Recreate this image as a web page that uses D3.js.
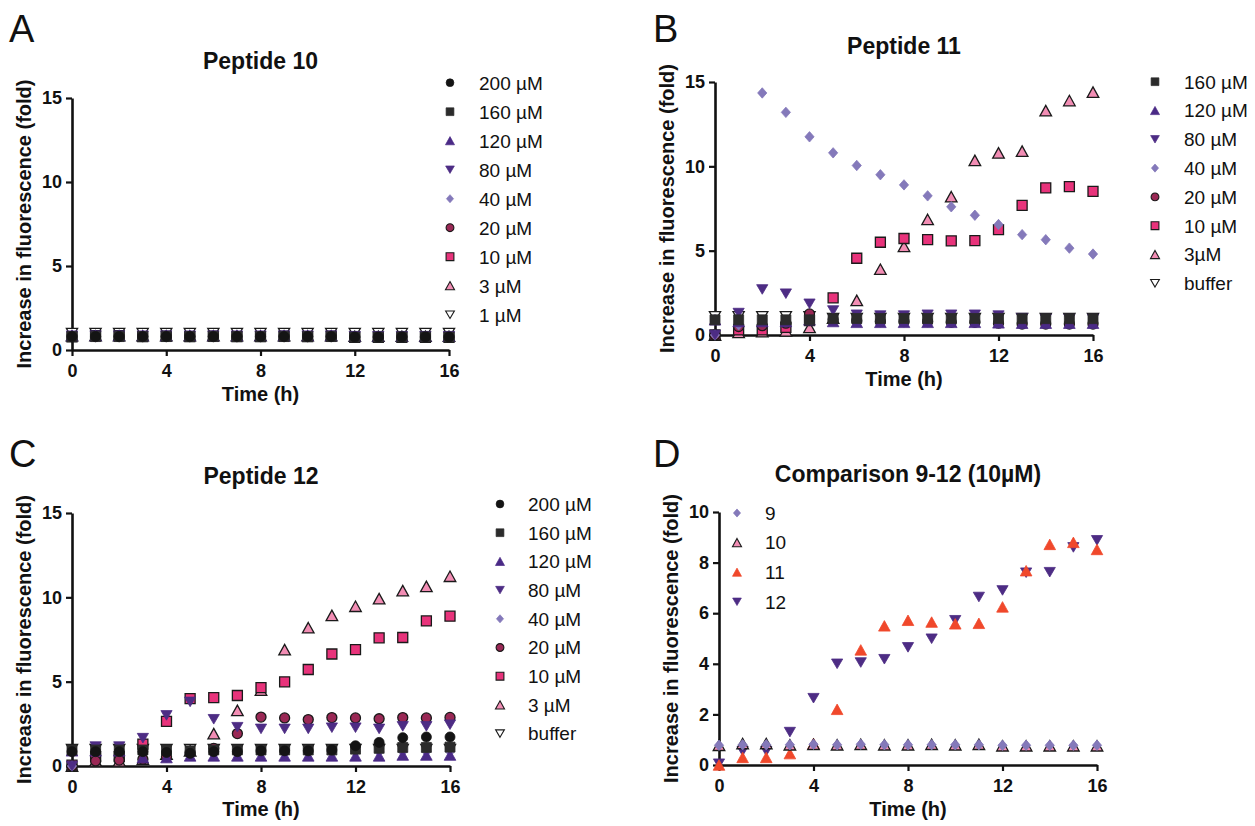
<!DOCTYPE html>
<html>
<head>
<meta charset="utf-8">
<script src="https://cdn.jsdelivr.net/npm/d3@7/dist/d3.min.js"></script>
<style>
  body { margin: 0; background: #fff; }
  text { font-family: "Liberation Sans", Arial, Helvetica, sans-serif; fill: #111; }
</style>
</head>
<body>
<div id="chart"></div>
<script>
// time points (h)
var hours = [0, 1, 2, 3, 4, 5, 6, 7, 8, 9, 10, 11, 12, 13, 14, 15, 16];
var xTicks = [0, 4, 8, 12, 16];
var yTicks15 = [0, 5, 10, 15];
var yTicks10 = [0, 2, 4, 6, 8, 10];

// peptide 10 (panel A)
var p10_200 = [0.80, 0.80, 0.80, 0.80, 0.80, 0.80, 0.80, 0.80, 0.80, 0.80, 0.80, 0.80, 0.77, 0.77, 0.78, 0.78, 0.77];
var p10_160 = [0.80, 0.80, 0.80, 0.80, 0.80, 0.80, 0.80, 0.80, 0.80, 0.80, 0.80, 0.80, 0.77, 0.77, 0.78, 0.78, 0.77];
var p10_120 = [0.85, 0.85, 0.85, 0.85, 0.85, 0.85, 0.85, 0.85, 0.85, 0.85, 0.85, 0.85, 0.82, 0.82, 0.82, 0.82, 0.82];
var p10_80 = [0.85, 0.85, 0.85, 0.85, 0.85, 0.85, 0.85, 0.85, 0.85, 0.85, 0.85, 0.85, 0.82, 0.82, 0.82, 0.82, 0.82];
var p10_40 = [0.80, 0.80, 0.80, 0.80, 0.80, 0.80, 0.80, 0.80, 0.80, 0.80, 0.80, 0.80, 0.78, 0.78, 0.78, 0.78, 0.78];
var p10_20 = [0.80, 0.80, 0.80, 0.80, 0.80, 0.80, 0.80, 0.80, 0.80, 0.80, 0.80, 0.80, 0.78, 0.78, 0.78, 0.78, 0.78];
var p10_10 = [0.78, 0.85, 0.85, 0.80, 0.82, 0.80, 0.82, 0.80, 0.80, 0.82, 0.80, 0.82, 0.76, 0.76, 0.76, 0.76, 0.76];
var p10_3 = [0.85, 0.85, 0.85, 0.85, 0.85, 0.85, 0.85, 0.85, 0.85, 0.85, 0.85, 0.85, 0.82, 0.82, 0.82, 0.82, 0.82];
var p10_1 = [1.00, 1.00, 1.00, 1.00, 1.00, 1.00, 1.00, 1.00, 1.00, 1.00, 1.00, 1.00, 1.00, 1.00, 1.00, 1.00, 1.00];

// peptide 11 (panel B)
var p11_160 = [0.90, 0.90, 0.90, 0.90, 0.90, 0.97, 0.98, 0.98, 0.98, 0.98, 0.98, 0.98, 0.98, 0.97, 0.97, 0.97, 0.97];
var p11_120 = [0.90, 0.80, 0.80, 0.80, 0.90, 0.80, 0.75, 0.75, 0.75, 0.75, 0.75, 0.75, 0.72, 0.70, 0.70, 0.70, 0.70];
var p11_80 = [0.00, 1.30, 2.70, 2.45, 1.85, 1.45, 1.20, 1.15, 1.15, 1.20, 1.20, 1.20, 1.15, 1.00, 0.95, 0.95, 0.95];
var p11_40 = [0.00, 0.60, 14.35, 13.20, 11.75, 10.80, 10.05, 9.50, 8.90, 8.25, 7.60, 7.10, 6.55, 5.95, 5.65, 5.15, 4.80];
var p11_20 = [0.00, 0.50, 0.55, 0.70, 1.25, 0.90, 0.85, 0.80, 0.80, 0.80, 0.75, 0.75, 0.70, 0.65, 0.65, 0.65, 0.65];
var p11_10 = [0.00, 0.30, 0.30, 0.45, 0.85, 2.20, 4.55, 5.50, 5.72, 5.65, 5.58, 5.60, 6.25, 7.68, 8.72, 8.80, 8.52];
var p11_3 = [0.00, 0.15, 0.20, 0.25, 0.45, 1.00, 2.05, 3.90, 5.25, 6.85, 8.20, 10.35, 10.80, 10.90, 13.30, 13.90, 14.40];
var p11_buffer = [1.10, 1.10, 1.10, 1.10, 1.10, 1.00, 1.00, 1.00, 1.00, 1.00, 1.00, 1.00, 1.00, 1.00, 1.00, 1.00, 1.00];

// peptide 12 (panel C)
var p12_200 = [0.85, 0.85, 0.85, 0.85, 0.80, 0.75, 0.85, 0.85, 0.90, 0.90, 0.90, 0.95, 1.20, 1.40, 1.68, 1.72, 1.72];
var p12_160 = [0.95, 0.95, 0.95, 0.95, 0.95, 0.90, 0.95, 0.95, 0.95, 0.95, 0.95, 0.95, 1.00, 1.05, 1.10, 1.10, 1.12];
var p12_120 = [0.90, 0.90, 0.90, 0.50, 0.50, 0.60, 0.60, 0.60, 0.60, 0.60, 0.60, 0.60, 0.60, 0.60, 0.65, 0.65, 0.65];
var p12_80 = [0.00, 1.15, 1.15, 1.65, 3.00, 3.80, 2.77, 2.30, 2.20, 2.20, 2.20, 2.27, 2.27, 2.20, 2.35, 2.35, 2.45];
var p12_40 = [0.00, 0.85, 0.85, 0.85, 0.85, 0.85, 0.85, 0.85, 0.85, 0.85, 0.85, 0.85, 0.85, 0.85, 0.85, 0.85, 0.85];
var p12_20 = [0.00, 0.30, 0.35, 0.40, 0.55, 0.80, 1.05, 1.92, 2.90, 2.85, 2.75, 2.87, 2.85, 2.80, 2.87, 2.85, 2.88];
var p12_10 = [0.05, 0.55, 0.55, 1.30, 2.64, 4.00, 4.05, 4.18, 4.65, 4.99, 5.72, 6.64, 6.90, 7.60, 7.62, 8.60, 8.88];
var p12_3 = [0.00, 0.30, 0.30, 0.40, 0.70, 0.90, 1.92, 3.30, 4.50, 6.90, 8.20, 8.93, 9.47, 9.92, 10.40, 10.65, 11.25];
var p12_buffer = [1.00, 1.00, 1.00, 1.00, 1.00, 1.00, 1.00, 1.00, 1.00, 1.00, 1.00, 1.00, 1.00, 1.00, 1.00, 1.00, 1.00];

// peptide 9 at 10 uM (panel D only)
var p9_10 = [0.78, 0.80, 0.80, 0.80, 0.82, 0.80, 0.82, 0.80, 0.80, 0.80, 0.80, 0.80, 0.78, 0.78, 0.78, 0.78, 0.78];

// marker styles
var styles = {
  c200: { shape: "circle", fill: "#141414", stroke: "#141414", sw: 0.8 },
  c160: { shape: "square", fill: "#2b2b2b", stroke: "#2b2b2b", sw: 0.8 },
  c120: { shape: "triUp", fill: "#4a2a86", stroke: "#4a2a86", sw: 0.8 },
  c80: { shape: "triDown", fill: "#4d2c84", stroke: "#4d2c84", sw: 0.8 },
  c40: { shape: "diamond", fill: "#8479ba", stroke: "#8479ba", sw: 0.8 },
  c20: { shape: "circle", fill: "#9a2855", stroke: "#1a1a1a", sw: 1.3 },
  c10: { shape: "square", fill: "#e8337b", stroke: "#1a1a1a", sw: 1.3 },
  c3: { shape: "triUp", fill: "#f28db4", stroke: "#1a1a1a", sw: 1.3 },
  cbuf: { shape: "triDown", fill: "#ffffff", stroke: "#1a1a1a", sw: 1.3 },
  d11: { shape: "triUp", fill: "#f0482b", stroke: "#f0482b", sw: 0.8 }
};

function shapePath(shape, k) {
  var r, w, h;
  if (shape === "circle") {
    r = 5 * k;
    return "M" + r + ",0A" + r + "," + r + " 0 1,1 " + -r + ",0A" + r + "," + r + " 0 1,1 " + r + ",0Z";
  }
  if (shape === "square") {
    r = 5 * k;
    return "M" + -r + "," + -r + "H" + r + "V" + r + "H" + -r + "Z";
  }
  if (shape === "triUp") {
    w = 5.8 * k; h = 10.5 * k;
    return "M0," + -h / 2 + "L" + w + "," + h / 2 + "L" + -w + "," + h / 2 + "Z";
  }
  if (shape === "triDown") {
    w = 5.6 * k; h = 9.6 * k;
    return "M0," + h / 2 + "L" + w + "," + -h / 2 + "L" + -w + "," + -h / 2 + "Z";
  }
  // diamond
  w = 4.6 * k; h = 5.2 * k;
  return "M0," + -h + "L" + w + ",0L0," + h + "L" + -w + ",0Z";
}

var svg = d3
  .select("#chart")
  .append("svg")
  .attr("width", 1255)
  .attr("height", 826)
  .style("background", "#fff");

function drawPanel(p) {
  var g = svg.append("g");
  var x = d3.scaleLinear().domain([0, 16]).range([p.left, p.right]);
  var y = d3.scaleLinear().domain([0, p.yMax]).range([p.bottom, p.top]);

  // panel letter and title
  g.append("text")
    .attr("x", p.letterX)
    .attr("y", p.letterY)
    .style("font-size", "38px")
    .text(p.letter);
  g.append("text")
    .attr("x", (p.left + p.right) / 2)
    .attr("y", p.titleY)
    .attr("text-anchor", "middle")
    .style("font-size", "23px")
    .style("font-weight", "bold")
    .text(p.title);

  // axes
  var xa = g
    .append("g")
    .attr("transform", "translate(0," + p.bottom + ")")
    .call(d3.axisBottom(x).tickValues(xTicks).tickSize(6).tickSizeOuter(0).tickPadding(8));
  var ya = g
    .append("g")
    .attr("transform", "translate(" + p.left + ",0)")
    .call(d3.axisLeft(y).tickValues(p.yTicks).tickSize(6).tickSizeOuter(0).tickPadding(4));
  [xa, ya].forEach(function (a) {
    a.select(".domain").attr("stroke", "#111").attr("stroke-width", 2.6);
    a.selectAll(".tick line").attr("stroke", "#111").attr("stroke-width", 2.2);
    a.selectAll(".tick text")
      .style("font-size", "18px")
      .style("font-weight", "bold")
      .style("font-family", '"Liberation Sans", Arial, sans-serif')
      .attr("fill", "#111");
  });

  // axis titles
  g.append("text")
    .attr("x", (p.left + p.right) / 2)
    .attr("y", p.bottom + p.xLabelGap)
    .attr("text-anchor", "middle")
    .style("font-size", "20px")
    .style("font-weight", "bold")
    .text("Time (h)");
  g.append("text")
    .attr("transform", "translate(" + (p.left - 41) + "," + (p.top + p.bottom) / 2 + ") rotate(-90)")
    .attr("text-anchor", "middle")
    .style("font-size", "20px")
    .style("font-weight", "bold")
    .text("Increase in fluorescence (fold)");

  // markers, first series drawn last so it sits on top
  p.series
    .slice()
    .reverse()
    .forEach(function (s) {
      g.append("g")
        .selectAll("path")
        .data(s.values)
        .enter()
        .append("path")
        .attr("transform", function (d, i) {
          return "translate(" + x(hours[i]) + "," + y(d) + ")";
        })
        .attr("d", shapePath(s.style.shape, 1))
        .attr("fill", s.style.fill)
        .attr("stroke", s.style.stroke)
        .attr("stroke-width", s.style.sw);
    });

  // legend
  p.series.forEach(function (s, i) {
    var ly = p.legendY + i * p.legendStep;
    g.append("path")
      .attr("transform", "translate(" + p.legendX + "," + ly + ")")
      .attr("d", shapePath(s.style.shape, 0.78))
      .attr("fill", s.style.fill)
      .attr("stroke", s.style.stroke)
      .attr("stroke-width", s.style.sw * 0.85);
    g.append("text")
      .attr("x", p.legendTextX)
      .attr("y", ly)
      .attr("dy", "0.36em")
      .style("font-size", "19px")
      .text(s.label);
  });
}

drawPanel({
  letter: "A", letterX: 9, letterY: 42, title: "Peptide 10", titleY: 69,
  left: 72, right: 449, top: 98, bottom: 350, yMax: 15, yTicks: yTicks15, xLabelGap: 51,
  legendX: 450, legendTextX: 479, legendY: 82.7, legendStep: 29,
  series: [
    { label: "200 µM", values: p10_200, style: styles.c200 },
    { label: "160 µM", values: p10_160, style: styles.c160 },
    { label: "120 µM", values: p10_120, style: styles.c120 },
    { label: "80 µM", values: p10_80, style: styles.c80 },
    { label: "40 µM", values: p10_40, style: styles.c40 },
    { label: "20 µM", values: p10_20, style: styles.c20 },
    { label: "10 µM", values: p10_10, style: styles.c10 },
    { label: "3 µM", values: p10_3, style: styles.c3 },
    { label: "1 µM", values: p10_1, style: styles.cbuf }
  ]
});

drawPanel({
  letter: "B", letterX: 653, letterY: 42, title: "Peptide 11", titleY: 54,
  left: 715, right: 1093, top: 82, bottom: 335, yMax: 15, yTicks: yTicks15, xLabelGap: 51,
  legendX: 1155, legendTextX: 1184, legendY: 81.7, legendStep: 28.8,
  series: [
    { label: "160 µM", values: p11_160, style: styles.c160 },
    { label: "120 µM", values: p11_120, style: styles.c120 },
    { label: "80 µM", values: p11_80, style: styles.c80 },
    { label: "40 µM", values: p11_40, style: styles.c40 },
    { label: "20 µM", values: p11_20, style: styles.c20 },
    { label: "10 µM", values: p11_10, style: styles.c10 },
    { label: "3µM", values: p11_3, style: styles.c3 },
    { label: "buffer", values: p11_buffer, style: styles.cbuf }
  ]
});

drawPanel({
  letter: "C", letterX: 9, letterY: 467, title: "Peptide 12", titleY: 484,
  left: 72, right: 450, top: 513, bottom: 766, yMax: 15, yTicks: yTicks15, xLabelGap: 50,
  legendX: 500, legendTextX: 528, legendY: 504, legendStep: 28.7,
  series: [
    { label: "200 µM", values: p12_200, style: styles.c200 },
    { label: "160 µM", values: p12_160, style: styles.c160 },
    { label: "120 µM", values: p12_120, style: styles.c120 },
    { label: "80 µM", values: p12_80, style: styles.c80 },
    { label: "40 µM", values: p12_40, style: styles.c40 },
    { label: "20 µM", values: p12_20, style: styles.c20 },
    { label: "10 µM", values: p12_10, style: styles.c10 },
    { label: "3 µM", values: p12_3, style: styles.c3 },
    { label: "buffer", values: p12_buffer, style: styles.cbuf }
  ]
});

drawPanel({
  letter: "D", letterX: 653, letterY: 467, title: "Comparison 9-12 (10µM)", titleY: 482,
  left: 719, right: 1097, top: 512, bottom: 765, yMax: 10, yTicks: yTicks10, xLabelGap: 51,
  legendX: 737, legendTextX: 765, legendY: 513, legendStep: 29.6,
  series: [
    { label: "9", values: p9_10, style: styles.c40 },
    { label: "10", values: p10_10, style: styles.c3 },
    { label: "11", values: p11_10, style: styles.d11 },
    { label: "12", values: p12_10, style: styles.c80 }
  ]
});
</script>
</body>
</html>
